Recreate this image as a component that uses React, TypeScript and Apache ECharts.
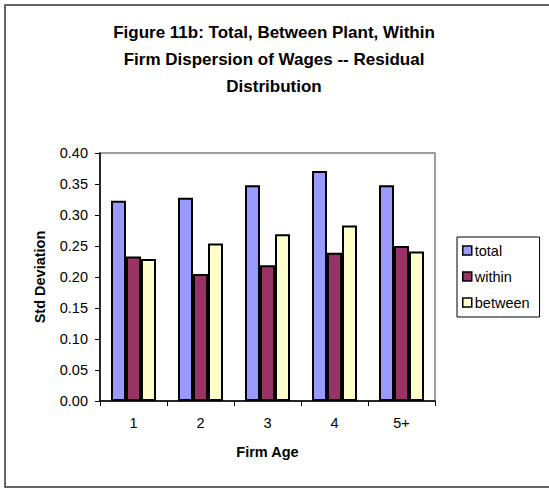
import React, { useEffect, useRef } from "react";
import * as echarts from "echarts";

const categories = ["1", "2", "3", "4", "5+"];
const totalValues = [0.323, 0.328, 0.348, 0.371, 0.348];
const withinValues = [0.233, 0.205, 0.219, 0.239, 0.25];
const betweenValues = [0.229, 0.254, 0.269, 0.283, 0.241];
const titleLines = [
  "Figure 11b: Total, Between Plant, Within",
  "Firm Dispersion of Wages -- Residual",
  "Distribution",
];

const FONT = "'Liberation Sans', Arial, sans-serif";

export default function App() {
  const ref = useRef<HTMLDivElement>(null);
  useEffect(() => {
    if (!ref.current) return;
    const chart = echarts.init(ref.current, undefined, { renderer: "svg" });
    const barCommon = {
      type: "bar" as const,
      barWidth: 15,
      barGap: "0%",
    };
    chart.setOption({
      animation: false,
      backgroundColor: "#fff",
      textStyle: { fontFamily: FONT },
      graphic: [
        {
          type: "rect",
          shape: { x: 5, y: 5, width: 560, height: 482 },
          style: { fill: "none", stroke: "#333", lineWidth: 1.5 },
          silent: true,
          z: -1,
        },
        {
          type: "text",
          x: 274,
          y: 19,
          silent: true,
          style: {
            text: titleLines.join("\n"),
            fontFamily: FONT,
            fontSize: 17,
            fontWeight: "bold",
            fill: "#000",
            lineHeight: 27,
            textAlign: "center",
            textVerticalAlign: "top",
          },
        },
      ],
      legend: {
        orient: "vertical",
        left: 457,
        top: 237,
        padding: [6, 10, 7, 5],
        itemGap: 11,
        itemWidth: 9,
        itemHeight: 9,
        icon: "rect",
        borderColor: "#000",
        borderWidth: 1,
        backgroundColor: "#fff",
        itemStyle: { borderColor: "#000", borderWidth: 1.5 },
        textStyle: { fontFamily: FONT, fontSize: 14.5, color: "#000", padding: [0, 0, 0, -2] },
        data: ["total", "within", "between"],
      },
      grid: {
        left: 100,
        top: 153,
        width: 335,
        height: 248,
        show: true,
        borderColor: "#808080",
        borderWidth: 1.5,
        backgroundColor: "transparent",
      },
      xAxis: {
        type: "category",
        data: categories,
        name: "Firm Age",
        nameLocation: "middle",
        nameGap: 43,
        nameTextStyle: { fontFamily: FONT, fontSize: 14.5, fontWeight: "bold", color: "#000" },
        axisLine: { lineStyle: { color: "#000", width: 1.5 } },
        axisTick: { show: true, length: 5, lineStyle: { color: "#000" } },
        axisLabel: { fontFamily: FONT, fontSize: 14.5, color: "#000", margin: 14 },
      },
      yAxis: {
        type: "value",
        min: 0,
        max: 0.4,
        interval: 0.05,
        name: "Std Deviation",
        nameLocation: "middle",
        nameGap: 53,
        nameTextStyle: { fontFamily: FONT, fontSize: 14.5, fontWeight: "bold", color: "#000" },
        axisLine: { show: true, lineStyle: { color: "#000", width: 1.5 } },
        axisTick: { show: true, length: 5, lineStyle: { color: "#000" } },
        axisLabel: {
          fontFamily: FONT,
          fontSize: 14.5,
          color: "#000",
          margin: 12,
          formatter: (v: number) => v.toFixed(2),
        },
        splitLine: { show: false },
      },
      series: [
        {
          ...barCommon,
          name: "total",
          data: totalValues,
          itemStyle: { color: "#9999FF", borderColor: "#000", borderWidth: 2 },
        },
        {
          ...barCommon,
          name: "within",
          data: withinValues,
          itemStyle: { color: "#993366", borderColor: "#000", borderWidth: 2 },
        },
        {
          ...barCommon,
          name: "between",
          data: betweenValues,
          itemStyle: { color: "#FFFFCC", borderColor: "#000", borderWidth: 2 },
        },
      ],
    });
    return () => chart.dispose();
  }, []);
  return (
    <div
      ref={ref}
      style={{ position: "fixed", left: 0, top: 0, width: 549, height: 489 }}
    />
  );
}
